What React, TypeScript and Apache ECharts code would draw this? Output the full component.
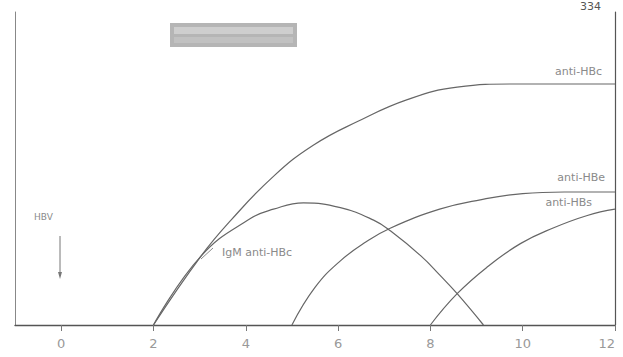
import React, { useEffect, useRef } from "react";
import * as echarts from "echarts";

// x: time, y: relative level (% of plot height)
const antiHBcX = [2, 3.03, 3.68, 4.6, 5.47, 6.42, 7.5, 8.58, 9.8, 12];
const antiHBcY = [0, 22, 33.5, 47.5, 57.5, 65, 72, 76, 77, 77];

const igmX = [2, 3.03, 4.1, 4.6, 5.25, 6.05, 6.77, 7.14, 7.8, 8.2, 8.58, 9.15];
const igmY = [0, 22, 34, 37, 39, 37.5, 33.5, 30, 22, 16, 10, 0];

const antiHBeX = [5.0, 5.5, 6.05, 6.6, 7.14, 8.2, 9.08, 10.0, 10.9, 12];
const antiHBeY = [0, 12, 20.5, 26.5, 31, 37, 40, 42, 42.5, 42.5];

const antiHBsX = [8.0, 8.58, 9.23, 9.95, 10.66, 11.4, 12];
const antiHBsY = [0, 10, 18.5, 26, 31, 35, 37];

const tickValues = [0, 2, 4, 6, 8, 10, 12];
const tickLabels = ["0", "2", "4", "6", "8", "10", "12"];

const zip = (xs: number[], ys: number[]) => xs.map((x, i) => [x, ys[i]]);

const lineColor = "#666";
const textColor = "#8a8a8a";
const font = "DejaVu Sans";

export default function App() {
  const ref = useRef<HTMLDivElement>(null);
  useEffect(() => {
    if (!ref.current) return;
    const chart = echarts.init(ref.current, undefined, { renderer: "svg" });
    const mk = (name: string, xs: number[], ys: number[]) => ({
      name,
      type: "line",
      data: zip(xs, ys),
      smooth: 0.45,
      showSymbol: false,
      symbol: "none",
      lineStyle: { color: lineColor, width: 1.2 },
      silent: true,
    });
    chart.setOption({
      animation: false,
      backgroundColor: "#fff",
      grid: { left: 15, right: 8, top: 12, bottom: 32, containLabel: false },
      xAxis: {
        type: "value",
        min: -1,
        max: 12,
        splitLine: { show: false },
        axisLine: { show: true, onZero: false, lineStyle: { color: "#555", width: 1.4 } },
        axisTick: {
          show: true,
          customValues: tickValues,
          length: 6,
          lineStyle: { color: "#777" },
        },
        axisLabel: {
          customValues: tickValues,
          formatter: (v: number) => tickLabels[tickValues.indexOf(v)] ?? "",
          color: "#999",
          fontFamily: font,
          fontSize: 13,
          margin: 12,
          alignMaxLabel: "right",
        },
      },
      yAxis: [
        {
          type: "value",
          min: 0,
          max: 100,
          position: "left",
          splitLine: { show: false },
          axisLabel: { show: false },
          axisTick: { show: false },
          axisLine: { show: true, onZero: false, lineStyle: { color: "#888", width: 1 } },
        },
        {
          type: "value",
          min: 0,
          max: 100,
          position: "right",
          splitLine: { show: false },
          axisLabel: { show: false },
          axisTick: { show: false },
          axisLine: { show: true, onZero: false, lineStyle: { color: "#555", width: 1.2 } },
        },
      ],
      series: [
        mk("anti-HBc", antiHBcX, antiHBcY),
        mk("IgM anti-HBc", igmX, igmY),
        mk("anti-HBe", antiHBeX, antiHBeY),
        mk("anti-HBs", antiHBsX, antiHBsY),
      ],
      graphic: [
        {
          type: "text",
          right: 21,
          top: 66,
          style: { text: "anti-HBc", fill: textColor, font: `11px ${font}` },
        },
        {
          type: "text",
          right: 18,
          top: 172,
          style: { text: "anti-HBe", fill: textColor, font: `11px ${font}` },
        },
        {
          type: "text",
          right: 31,
          top: 197,
          style: { text: "anti-HBs", fill: textColor, font: `11px ${font}` },
        },
        {
          type: "text",
          left: 222,
          top: 247,
          style: { text: "IgM anti-HBc", fill: textColor, font: `11px ${font}` },
        },
        {
          type: "line",
          shape: { x1: 201, y1: 259, x2: 213, y2: 248 },
          style: { stroke: "#8a8a8a", lineWidth: 1 },
        },
        {
          type: "text",
          left: 34,
          top: 212,
          style: { text: "HBV", fill: textColor, font: `9px ${font}` },
        },
        {
          type: "line",
          shape: { x1: 60, y1: 236, x2: 60, y2: 276 },
          style: { stroke: "#777", lineWidth: 1 },
        },
        {
          type: "polygon",
          shape: { points: [[58, 272], [62, 272], [60, 279]] },
          style: { fill: "#777" },
        },
        {
          type: "rect",
          shape: { x: 170, y: 23, width: 127, height: 24 },
          style: { fill: "#9c9c9c", opacity: 0.75 },
        },
        {
          type: "rect",
          shape: { x: 174, y: 27, width: 119, height: 7 },
          style: { fill: "#d4d4d4", opacity: 0.8 },
        },
        {
          type: "rect",
          shape: { x: 174, y: 37, width: 119, height: 6 },
          style: { fill: "#c4c4c4", opacity: 0.8 },
        },
        {
          type: "text",
          left: 580,
          top: 1,
          style: { text: "334", fill: "#555", font: `11px ${font}` },
        },
      ],
    });
    return () => chart.dispose();
  }, []);
  return (
    <div
      ref={ref}
      style={{ position: "fixed", left: 0, top: 0, width: 623, height: 357 }}
    />
  );
}
